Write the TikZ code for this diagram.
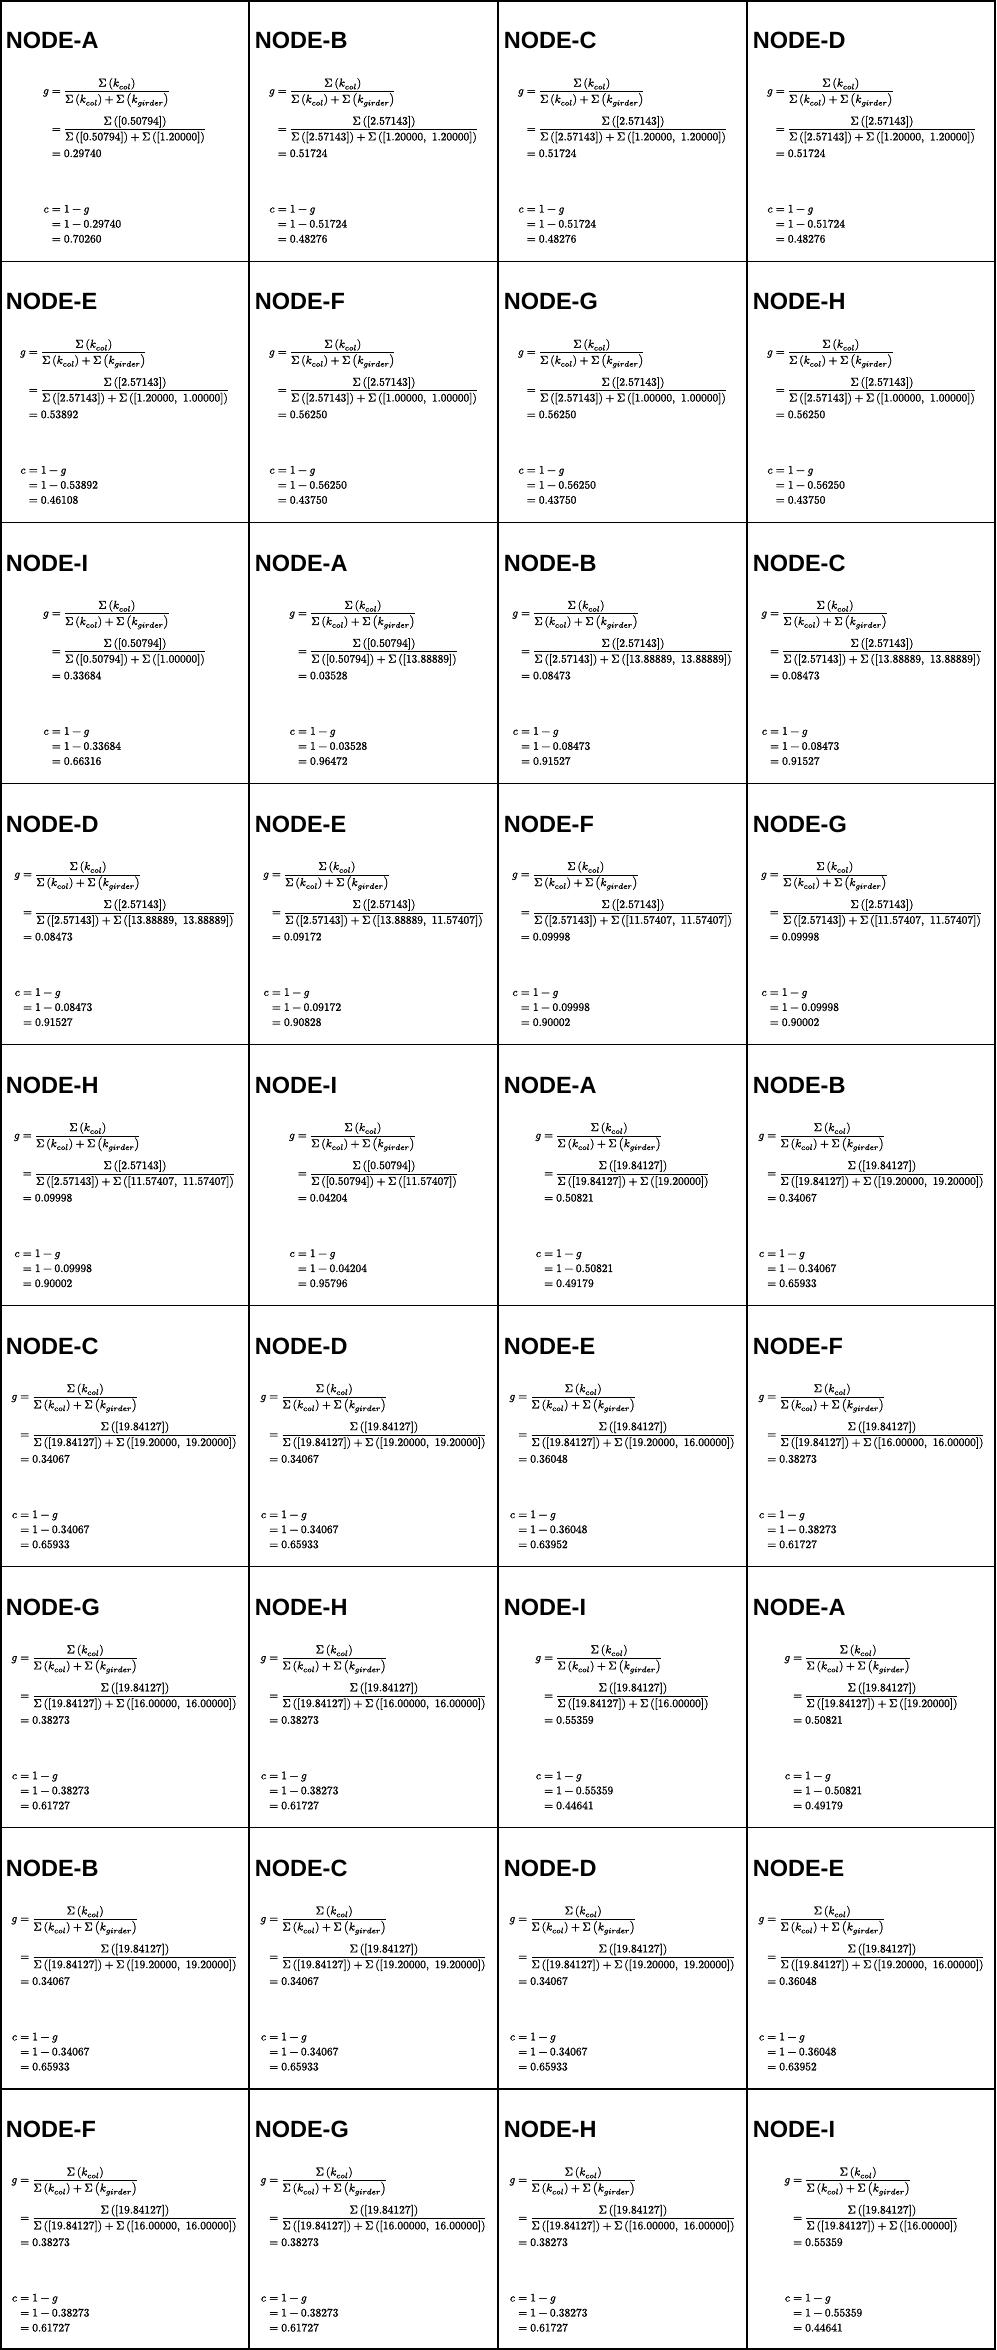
\documentclass[tikz,border=0pt]{standalone}
\usepackage{amsmath}
\usepackage{fontspec}
\usepackage{unicode-math}
\setmathfont{Latin Modern Math}[FakeBold=1.5]
\newfontfamily\headfont{Liberation Sans}
\tikzset{
  head/.style={font=\headfont\bfseries\fontsize{23.5}{28}\selectfont, inner sep=0pt, anchor=base west},
  mathbox/.style={font=\fontsize{11.4}{15}\selectfont, inner sep=0pt, anchor=base},
  gridline/.style={line width=1.2pt, black},
  outerline/.style={line width=2.4pt, black}
}
\newcommand\dstrut{\rule{0pt}{9.3pt}}
\newcommand\eqblock[4]{%
  \lineskiplimit=-\maxdimen\lineskip=0pt\baselineskip=15pt\jot=0pt
  $\begin{aligned}[t]
  g &= \dfrac{\Sigma\left(k_{col}\right)}{\dstrut\Sigma\left(k_{col}\right)+\Sigma\left(k_{girder}\right)}\\[23pt]
    &= \dfrac{\Sigma\left([#1]\right)}{\dstrut\Sigma\left([#1]\right)+\Sigma\left([#2]\right)}\\[9.7pt]
    &= #3\\[40.5pt]
  c &= 1-g\\
    &= 1-#3\\
    &= #4
  \end{aligned}$}
\newcommand\cellitem[7]{%
  \pgfmathsetmacro\cx{#1*249}%
  \pgfmathsetmacro\cy{#2*261.1111}%
  \node[head] (h-#1-#2) at (\cx+5.6,\cy+48.8) {NODE-#3};
  \node[mathbox] (m-#1-#2) at (\cx+124.5,\cy+94.3) {\eqblock{#4}{#5}{#6}{#7}};
}
\begin{document}
\begin{tikzpicture}[x=1pt,y=-1pt]
\useasboundingbox (0,0) rectangle (996,2350);
\fill[white] (0,0) rectangle (996,2350);
% grid
\foreach \i in {1,2,3} {\draw[gridline] (\i*249,0) -- (\i*249,2350);}
\foreach \j in {1,...,8} {\draw[gridline] (0,\j*261.1111) -- (996,\j*261.1111);}
\draw[outerline] (1.2,1.2) rectangle (994.8,2348.8);
% row 0
\cellitem{0}{0}{A}{0.50794}{1.20000}{0.29740}{0.70260}
\cellitem{1}{0}{B}{2.57143}{1.20000,\ 1.20000}{0.51724}{0.48276}
\cellitem{2}{0}{C}{2.57143}{1.20000,\ 1.20000}{0.51724}{0.48276}
\cellitem{3}{0}{D}{2.57143}{1.20000,\ 1.20000}{0.51724}{0.48276}
% row 1
\cellitem{0}{1}{E}{2.57143}{1.20000,\ 1.00000}{0.53892}{0.46108}
\cellitem{1}{1}{F}{2.57143}{1.00000,\ 1.00000}{0.56250}{0.43750}
\cellitem{2}{1}{G}{2.57143}{1.00000,\ 1.00000}{0.56250}{0.43750}
\cellitem{3}{1}{H}{2.57143}{1.00000,\ 1.00000}{0.56250}{0.43750}
% row 2
\cellitem{0}{2}{I}{0.50794}{1.00000}{0.33684}{0.66316}
\cellitem{1}{2}{A}{0.50794}{13.88889}{0.03528}{0.96472}
\cellitem{2}{2}{B}{2.57143}{13.88889,\ 13.88889}{0.08473}{0.91527}
\cellitem{3}{2}{C}{2.57143}{13.88889,\ 13.88889}{0.08473}{0.91527}
% row 3
\cellitem{0}{3}{D}{2.57143}{13.88889,\ 13.88889}{0.08473}{0.91527}
\cellitem{1}{3}{E}{2.57143}{13.88889,\ 11.57407}{0.09172}{0.90828}
\cellitem{2}{3}{F}{2.57143}{11.57407,\ 11.57407}{0.09998}{0.90002}
\cellitem{3}{3}{G}{2.57143}{11.57407,\ 11.57407}{0.09998}{0.90002}
% row 4
\cellitem{0}{4}{H}{2.57143}{11.57407,\ 11.57407}{0.09998}{0.90002}
\cellitem{1}{4}{I}{0.50794}{11.57407}{0.04204}{0.95796}
\cellitem{2}{4}{A}{19.84127}{19.20000}{0.50821}{0.49179}
\cellitem{3}{4}{B}{19.84127}{19.20000,\ 19.20000}{0.34067}{0.65933}
% row 5
\cellitem{0}{5}{C}{19.84127}{19.20000,\ 19.20000}{0.34067}{0.65933}
\cellitem{1}{5}{D}{19.84127}{19.20000,\ 19.20000}{0.34067}{0.65933}
\cellitem{2}{5}{E}{19.84127}{19.20000,\ 16.00000}{0.36048}{0.63952}
\cellitem{3}{5}{F}{19.84127}{16.00000,\ 16.00000}{0.38273}{0.61727}
% row 6
\cellitem{0}{6}{G}{19.84127}{16.00000,\ 16.00000}{0.38273}{0.61727}
\cellitem{1}{6}{H}{19.84127}{16.00000,\ 16.00000}{0.38273}{0.61727}
\cellitem{2}{6}{I}{19.84127}{16.00000}{0.55359}{0.44641}
\cellitem{3}{6}{A}{19.84127}{19.20000}{0.50821}{0.49179}
% row 7
\cellitem{0}{7}{B}{19.84127}{19.20000,\ 19.20000}{0.34067}{0.65933}
\cellitem{1}{7}{C}{19.84127}{19.20000,\ 19.20000}{0.34067}{0.65933}
\cellitem{2}{7}{D}{19.84127}{19.20000,\ 19.20000}{0.34067}{0.65933}
\cellitem{3}{7}{E}{19.84127}{19.20000,\ 16.00000}{0.36048}{0.63952}
% row 8
\cellitem{0}{8}{F}{19.84127}{16.00000,\ 16.00000}{0.38273}{0.61727}
\cellitem{1}{8}{G}{19.84127}{16.00000,\ 16.00000}{0.38273}{0.61727}
\cellitem{2}{8}{H}{19.84127}{16.00000,\ 16.00000}{0.38273}{0.61727}
\cellitem{3}{8}{I}{19.84127}{16.00000}{0.55359}{0.44641}
\end{tikzpicture}
\end{document}
